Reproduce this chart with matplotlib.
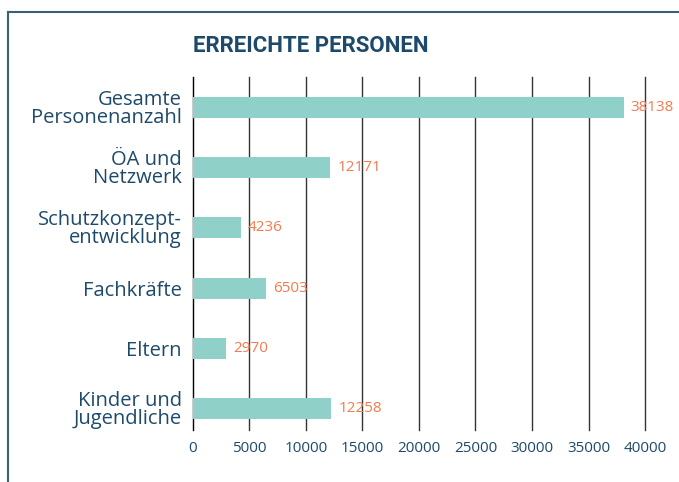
import matplotlib.pyplot as plt
from matplotlib.lines import Line2D

categories = ["Gesamte\nPersonenanzahl", "ÖA und\nNetzwerk", "Schutzkonzept-\nentwicklung",
              "Fachkräfte", "Eltern", "Kinder und\nJugendliche"]
values = [38138, 12171, 4236, 6503, 2970, 12258]
xticks = [0, 5000, 10000, 15000, 20000, 25000, 30000, 35000, 40000]

navy = "#1d4a6a"
teal = "#8fd1c8"
orange = "#f47b4f"

plt.rcParams['font.family'] = ['Open Sans', 'DejaVu Sans']
plt.rcParams['font.weight'] = 'medium'

fig = plt.figure(figsize=(6.79, 4.82), dpi=100)
ax = fig.add_axes([0.284, 0.108, 0.666, 0.732])

ypos = list(range(len(categories)))
ax.barh(ypos, values, height=0.35, color=teal, zorder=3)
for y, v in zip(ypos, values):
    ax.text(v + 600, y, str(v), va="center", ha="left", color=orange, fontsize=11, zorder=4)

ax.set_xlim(0, 40000)
ax.set_ylim(len(categories) - 0.65, -0.5)
ax.set_xticks(xticks)
ax.set_xticklabels([str(t) for t in xticks], color=navy, fontsize=11)
ax.set_yticks(ypos)
ax.set_yticklabels(categories, color=navy, fontsize=14.5, linespacing=0.85)
ax.tick_params(axis="both", length=0, pad=8)
ax.xaxis.grid(True, color="#333333", linewidth=1)
for gl in ax.get_xgridlines():
    gl.set_clip_on(False)
ax.set_axisbelow(True)
for s in ["top", "right", "bottom"]:
    ax.spines[s].set_visible(False)
ax.spines["left"].set_color("black")

fig.text(0.284, 0.905, "ERREICHTE PERSONEN", fontsize=16, fontweight="bold", color=navy,
         ha="left", va="center", family=["Roboto", "DejaVu Sans"])

fig.add_artist(Line2D([0.012, 1.0], [0.975, 0.975], color="#3b5f78", linewidth=1.5))
fig.add_artist(Line2D([0.012, 0.012], [0.0, 0.975], color="#3b5f78", linewidth=1.5))

fig.savefig("out.png", dpi=100)
